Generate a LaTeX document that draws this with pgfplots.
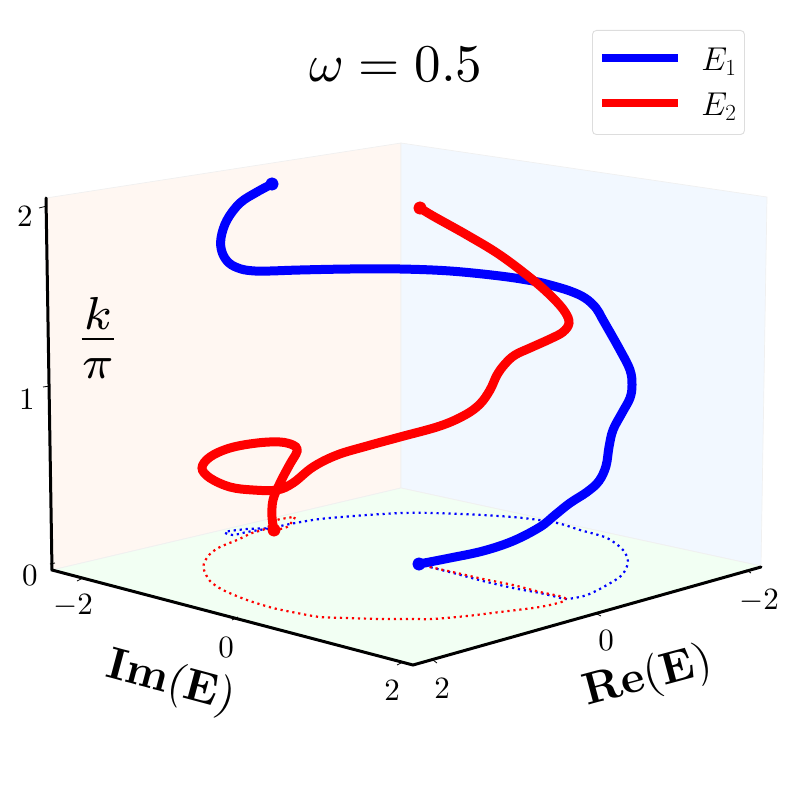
\RequirePackage{fix-cm}
\documentclass[border=0pt]{standalone}
\usepackage{pgfplots}
\pgfplotsset{compat=1.18}
\definecolor{paneL}{HTML}{FFF7F2}
\definecolor{paneR}{HTML}{F2F8FF}
\definecolor{paneF}{HTML}{F2FFF3}
\definecolor{paneE}{HTML}{F0F0F0}
\definecolor{legE}{HTML}{DDDDDD}
\newcommand{\fs}[1]{\fontsize{#1}{#1}\selectfont}
\pgfplotstableread{
x y
419 564
450 558
483 551
513 541
540 527
555 515
570 503
587 492
599 481
606 466
609 447
613 430
622 413
630 398
632 385
630 370
620 350
603 320
596 308
585 298
570 291
550 285
533 281
500 276
450 271
400 269
350 269
300 270
270 271
255 271
241 269
229 263
222 252
221 238
227 220
240 203
257 192
272 184
}\Eone
\pgfplotstableread{
x y
274 530
272 517
273 500
280 483
290 464
296 454
297 449
293 445
280 442
257 443
230 448
210 457
202 468
210 478
230 487
253 490
277 490
293 483
313 467
337 455
367 446
400 437
440 426
465 415
480 404
490 390
497 375
505 364
515 355
530 348
550 339
563 332
569 323
565 312
553 298
533 280
500 255
467 235
433 216
420 208
}\Etwo
\pgfplotstableread{
x y
419 564
430 567
457 574
483 581
513 588
540 593
557 597
567 599
587 595
607 585
622 575
628 562
623 550
607 538
580 530
557 523
523 518
483 515
433 513
403 513
367 515
320 519
290 524
270 528
247 529
225 532
233 535
247 532
272 528
}\Ringone
\pgfplotstableread{
x y
274 530
287 527
295 517
288 518
277 520
265 529
252 533
237 540
220 547
210 554
204 563
204 570
210 581
223 590
247 600
273 608
297 613
320 617
347 618
380 619
413 619
433 619
467 616
500 612
533 608
550 605
564 601
563 597
540 592
513 585
483 579
457 573
430 567
419 564
}\Ringtwo
\begin{document}
\begin{tikzpicture}
\useasboundingbox (0,0) rectangle (792pt,792pt);
\begin{axis}[
  scale only axis, width=792pt, height=792pt,
  xmin=0, xmax=792, ymin=0, ymax=792, y dir=reverse,
  axis lines=none, clip=false,
  legend style={at={(axis cs:592,30)}, anchor=north west, draw=legE, rounded corners=4pt,
    line width=0.9pt, fill=white, inner xsep=6pt, inner ysep=15.5pt,
    font=\fs{33}, row sep=17pt,
    /tikz/every odd column/.append style={column sep=17pt}},
  legend cell align=left,
  legend image code/.code={\draw[#1,line width=8pt,line cap=butt] (0pt,2pt) -- (76pt,2pt);},
]
% panes
\addplot[forget plot, fill=paneL, draw=paneE, line width=0.7pt] coordinates {(46,198)(401,143)(401,488)(52,570)} -- cycle;
\addplot[forget plot, fill=paneR, draw=paneE, line width=0.7pt] coordinates {(401,143)(767,197)(761,566)(401,488)} -- cycle;
\addplot[forget plot, fill=paneF, draw=paneE, line width=0.7pt] coordinates {(52,570)(401,488)(761,566)(413,665)} -- cycle;
% axis lines
\addplot[forget plot, black, line width=3pt, line cap=round] coordinates {(46,198)(52,570)(413,665)(761,567)};
% ticks
\addplot[forget plot, black, line width=0.8pt] coordinates {(39,208)(47,206)};
\addplot[forget plot, black, line width=0.8pt] coordinates {(43,387)(50,386)};
\addplot[forget plot, black, line width=0.8pt] coordinates {(50,564)(55,563)};
\addplot[forget plot, black, line width=0.8pt] coordinates {(77,581)(83,578)};
\addplot[forget plot, black, line width=0.8pt] coordinates {(232,620)(238,617)};
\addplot[forget plot, black, line width=0.8pt] coordinates {(397,665)(403,662)};
\addplot[forget plot, black, line width=0.8pt] coordinates {(433,660)(437,663)};
\addplot[forget plot, black, line width=0.8pt] coordinates {(595,613)(601,616)};
\addplot[forget plot, black, line width=0.8pt] coordinates {(746,570)(751,573)};
% projections on the floor
\addplot[forget plot, blue, line width=2.2pt, smooth, tension=0.5, dash pattern=on 2.2pt off 3.8pt] table {\Ringone};
\addplot[forget plot, red, line width=2.2pt, smooth, tension=0.5, dash pattern=on 2.2pt off 3.8pt] table {\Ringtwo};
% curves
\addplot[blue, line width=9pt, smooth, tension=0.6] table {\Eone};
\addlegendentry{$E_1$\hspace{9pt}}
\addplot[red, line width=9pt, smooth, tension=0.6] table {\Etwo};
\addlegendentry{$E_2$\hspace{9pt}}
\addplot[forget plot, only marks, mark=*, mark size=6.2pt, blue, mark options={draw=blue, fill=blue}] coordinates {(419,564)(272,184)};
\addplot[forget plot, only marks, mark=*, mark size=6.2pt, red, mark options={draw=red, fill=red}] coordinates {(274,530)(420,208)};
% text
\node[anchor=base west, inner sep=0pt, scale=5.3] at (axis cs:308,81) {$\omega = 0.5$};
\node[inner sep=0pt, scale=6.6] at (axis cs:98,338) {$\frac{k}{\pi}$};
\node[inner sep=0pt, scale=3.1] at (axis cs:25,217) {$2$};
\node[inner sep=0pt, scale=3.1] at (axis cs:27,400) {$1$};
\node[inner sep=0pt, scale=3.1] at (axis cs:30,576) {$0$};
\node[inner sep=0pt, scale=3.1] at (axis cs:73,606) {$-2$};
\node[inner sep=0pt, scale=3.1] at (axis cs:226,648) {$0$};
\node[inner sep=0pt, scale=3.1] at (axis cs:392,691) {$2$};
\node[inner sep=0pt, scale=3.1] at (axis cs:442,689) {$2$};
\node[inner sep=0pt, scale=3.1] at (axis cs:606,641) {$0$};
\node[inner sep=0pt, scale=3.1] at (axis cs:759,601) {$-2$};
\node[rotate=-15, inner sep=0pt, scale=4.5] at (axis cs:171,683) {$\mathbf{Im(E)}$};
\node[rotate=15, inner sep=0pt, scale=4.5] at (axis cs:648,678) {$\mathbf{Re(E)}$};
\end{axis}
\end{tikzpicture}
\end{document}
